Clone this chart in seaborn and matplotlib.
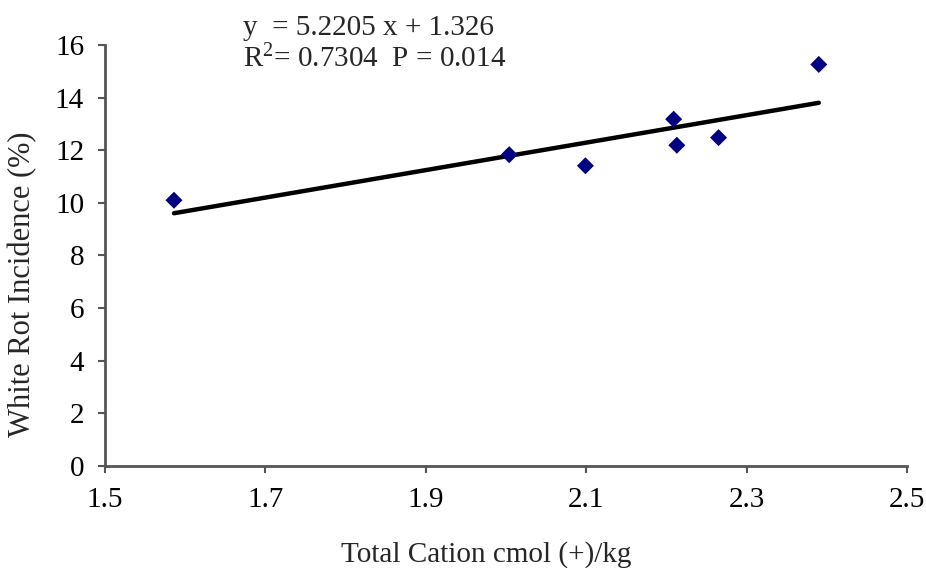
import numpy as np
import pandas as pd
import seaborn as sns
import matplotlib.pyplot as plt

# Datos
total_cation = [1.586, 2.004, 2.099, 2.209, 2.213, 2.265, 2.39]
white_rot = [10.1, 11.83, 11.41, 13.18, 12.19, 12.48, 15.26]
slope = 5.2205
intercept = 1.326
x_ticks = [1.5, 1.7, 1.9, 2.1, 2.3, 2.5]
y_ticks = [0, 2, 4, 6, 8, 10, 12, 14, 16]

df = pd.DataFrame({'x': total_cation, 'y': white_rot})
fit = pd.DataFrame({'x': [min(total_cation), max(total_cation)]})
fit['y'] = slope * fit['x'] + intercept

sns.set_style('white')
plt.rcParams['font.family'] = ['Liberation Serif', 'DejaVu Serif']
plt.rcParams['mathtext.fontset'] = 'custom'
plt.rcParams['mathtext.rm'] = 'Liberation Serif'
plt.rcParams['mathtext.it'] = 'Liberation Serif:italic'

fig = plt.figure(figsize=(9.26, 5.68), dpi=100)
ax = fig.add_axes([0.1134, 0.1796, 0.8661, 0.7412])

sns.lineplot(data=fit, x='x', y='y', ax=ax, color='black', linewidth=3.2)
sns.scatterplot(data=df, x='x', y='y', ax=ax, marker='D', color='#000080',
                s=75, edgecolor='none', zorder=3)

ax.set_xlim(1.5, 2.5)
ax.set_ylim(0, 16)
ax.set_xticks(x_ticks)
ax.set_yticks(y_ticks)
ax.set_xticklabels([f'{t:.1f}' for t in x_ticks])
ax.tick_params(axis='both', labelsize=21, colors='#555555', labelcolor='black',
               direction='out', length=5, width=1.5, left=True, bottom=True)
ax.tick_params(axis='x', pad=10)
ax.tick_params(axis='y', pad=10)

for side in ['top', 'right']:
    ax.spines[side].set_visible(False)
for side in ['left', 'bottom']:
    ax.spines[side].set_color('#555555')
    ax.spines[side].set_linewidth(2)

ax.set_xlabel('Total Cation cmol (+)/kg', fontsize=21, labelpad=20)
ax.set_ylabel('White Rot Incidence (%)', fontsize=22, labelpad=13)
ax.xaxis.label.set_x(0.475)
ax.yaxis.label.set_y(0.432)

fig.text(243 / 926, 1 - 35 / 568, 'y  = 5.2205 x + 1.326', fontsize=21, va='baseline', ha='left')
fig.text(243 / 926, 1 - 67 / 568, r'R$^{\mathrm{2}}$= 0.7304  P = 0.014', fontsize=21, va='baseline', ha='left')

fig.savefig('out.png', dpi=100)
